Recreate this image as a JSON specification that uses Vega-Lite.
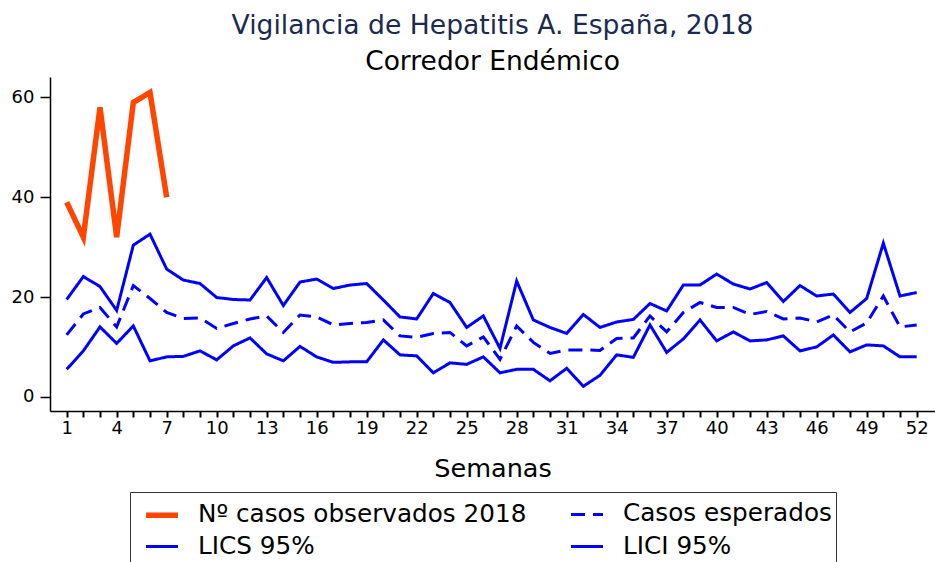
{
  "$schema": "https://vega.github.io/schema/vega-lite/v6.json",
  "width": 885,
  "height": 334,
  "autosize": {"type": "none"},
  "padding": {"left": 50, "top": 77, "right": 0, "bottom": 151},
  "background": "white",
  "title": {
    "text": "Vigilancia de Hepatitis A. España, 2018",
    "subtitle": "Corredor Endémico",
    "font": "DejaVu Sans",
    "fontSize": 26.6,
    "fontWeight": "normal",
    "color": "#1c2a4e",
    "subtitleFont": "DejaVu Sans",
    "subtitleFontSize": 26.5,
    "subtitleColor": "#000000",
    "subtitlePadding": 9,
    "anchor": "middle",
    "offset": 2
  },
  "data": {
    "values": [
      {"semana": 1, "Nº casos observados 2018": 39, "Casos esperados": 12.4, "LICS 95%": 19.5, "LICI 95%": 5.5},
      {"semana": 2, "Nº casos observados 2018": 32, "Casos esperados": 16.6, "LICS 95%": 24.1, "LICI 95%": 9.2},
      {"semana": 3, "Nº casos observados 2018": 58, "Casos esperados": 17.9, "LICS 95%": 22.1, "LICI 95%": 14.0},
      {"semana": 4, "Nº casos observados 2018": 32, "Casos esperados": 14.0, "LICS 95%": 17.3, "LICI 95%": 10.7},
      {"semana": 5, "Nº casos observados 2018": 59, "Casos esperados": 22.3, "LICS 95%": 30.4, "LICI 95%": 14.2},
      {"semana": 6, "Nº casos observados 2018": 61, "Casos esperados": 19.7, "LICS 95%": 32.6, "LICI 95%": 7.2},
      {"semana": 7, "Nº casos observados 2018": 40, "Casos esperados": 16.9, "LICS 95%": 25.6, "LICI 95%": 8.0},
      {"semana": 8, "Casos esperados": 15.7, "LICS 95%": 23.4, "LICI 95%": 8.1},
      {"semana": 9, "Casos esperados": 15.8, "LICS 95%": 22.7, "LICI 95%": 9.2},
      {"semana": 10, "Casos esperados": 13.7, "LICS 95%": 19.9, "LICI 95%": 7.4},
      {"semana": 11, "Casos esperados": 14.7, "LICS 95%": 19.5, "LICI 95%": 10.2},
      {"semana": 12, "Casos esperados": 15.6, "LICS 95%": 19.4, "LICI 95%": 11.8},
      {"semana": 13, "Casos esperados": 16.2, "LICS 95%": 23.9, "LICI 95%": 8.6},
      {"semana": 14, "Casos esperados": 12.9, "LICS 95%": 18.3, "LICI 95%": 7.2},
      {"semana": 15, "Casos esperados": 16.4, "LICS 95%": 23.0, "LICI 95%": 10.1},
      {"semana": 16, "Casos esperados": 16.0, "LICS 95%": 23.6, "LICI 95%": 8.0},
      {"semana": 17, "Casos esperados": 14.4, "LICS 95%": 21.7, "LICI 95%": 6.9},
      {"semana": 18, "Casos esperados": 14.7, "LICS 95%": 22.4, "LICI 95%": 7.0},
      {"semana": 19, "Casos esperados": 14.9, "LICS 95%": 22.7, "LICI 95%": 7.0},
      {"semana": 20, "Casos esperados": 15.4, "LICS 95%": 19.4, "LICI 95%": 11.4},
      {"semana": 21, "Casos esperados": 12.2, "LICS 95%": 16.0, "LICI 95%": 8.4},
      {"semana": 22, "Casos esperados": 11.9, "LICS 95%": 15.6, "LICI 95%": 8.2},
      {"semana": 23, "Casos esperados": 12.7, "LICS 95%": 20.7, "LICI 95%": 4.8},
      {"semana": 24, "Casos esperados": 12.9, "LICS 95%": 18.9, "LICI 95%": 6.8},
      {"semana": 25, "Casos esperados": 10.2, "LICS 95%": 13.9, "LICI 95%": 6.5},
      {"semana": 26, "Casos esperados": 12.0, "LICS 95%": 16.2, "LICI 95%": 8.0},
      {"semana": 27, "Casos esperados": 7.5, "LICS 95%": 9.7, "LICI 95%": 4.8},
      {"semana": 28, "Casos esperados": 14.2, "LICS 95%": 23.2, "LICI 95%": 5.5},
      {"semana": 29, "Casos esperados": 10.9, "LICS 95%": 15.4, "LICI 95%": 5.5},
      {"semana": 30, "Casos esperados": 8.7, "LICS 95%": 13.9, "LICI 95%": 3.2},
      {"semana": 31, "Casos esperados": 9.4, "LICS 95%": 12.7, "LICI 95%": 5.7},
      {"semana": 32, "Casos esperados": 9.4, "LICS 95%": 16.5, "LICI 95%": 2.1},
      {"semana": 33, "Casos esperados": 9.3, "LICS 95%": 13.9, "LICI 95%": 4.3},
      {"semana": 34, "Casos esperados": 11.7, "LICS 95%": 15.0, "LICI 95%": 8.4},
      {"semana": 35, "Casos esperados": 11.8, "LICS 95%": 15.5, "LICI 95%": 7.9},
      {"semana": 36, "Casos esperados": 16.2, "LICS 95%": 18.7, "LICI 95%": 14.4},
      {"semana": 37, "Casos esperados": 13.0, "LICS 95%": 17.2, "LICI 95%": 8.9},
      {"semana": 38, "Casos esperados": 16.9, "LICS 95%": 22.4, "LICI 95%": 11.6},
      {"semana": 39, "Casos esperados": 18.9, "LICS 95%": 22.4, "LICI 95%": 15.4},
      {"semana": 40, "Casos esperados": 17.9, "LICS 95%": 24.6, "LICI 95%": 11.2},
      {"semana": 41, "Casos esperados": 17.9, "LICS 95%": 22.6, "LICI 95%": 13.0},
      {"semana": 42, "Casos esperados": 16.5, "LICS 95%": 21.6, "LICI 95%": 11.2},
      {"semana": 43, "Casos esperados": 17.1, "LICS 95%": 22.9, "LICI 95%": 11.4},
      {"semana": 44, "Casos esperados": 15.6, "LICS 95%": 19.1, "LICI 95%": 12.2},
      {"semana": 45, "Casos esperados": 15.8, "LICS 95%": 22.3, "LICI 95%": 9.2},
      {"semana": 46, "Casos esperados": 15.0, "LICS 95%": 20.2, "LICI 95%": 10.0},
      {"semana": 47, "Casos esperados": 16.4, "LICS 95%": 20.6, "LICI 95%": 12.4},
      {"semana": 48, "Casos esperados": 13.0, "LICS 95%": 16.9, "LICI 95%": 9.0},
      {"semana": 49, "Casos esperados": 14.8, "LICS 95%": 19.7, "LICI 95%": 10.4},
      {"semana": 50, "Casos esperados": 20.2, "LICS 95%": 30.8, "LICI 95%": 10.2},
      {"semana": 51, "Casos esperados": 14.0, "LICS 95%": 20.2, "LICI 95%": 8.0},
      {"semana": 52, "Casos esperados": 14.4, "LICS 95%": 20.9, "LICI 95%": 8.0}
    ]
  },
  "transform": [
    {"fold": ["Nº casos observados 2018", "Casos esperados", "LICS 95%", "LICI 95%"], "as": ["serie", "casos"]},
    {"filter": "isValid(datum.casos)"}
  ],
  "mark": {"type": "line", "strokeJoin": "miter"},
  "encoding": {
    "x": {
      "field": "semana",
      "type": "quantitative",
      "scale": {"domain": [0, 53.1], "nice": false, "zero": false},
      "axis": {
        "title": "Semanas",
        "values": [1,2,3,4,5,6,7,8,9,10,11,12,13,14,15,16,17,18,19,20,21,22,23,24,25,26,27,28,29,30,31,32,33,34,35,36,37,38,39,40,41,42,43,44,45,46,47,48,49,50,51,52],
        "labelExpr": "(datum.value - 1) % 3 == 0 ? datum.label : ''",
        "tickSize": 6,
        "tickWidth": 2,
        "labelPadding": 2,
        "titlePadding": 19,
        "titleFontSize": 25.5,
        "labelOverlap": false,
        "labelFlush": false
      }
    },
    "y": {
      "field": "casos",
      "type": "quantitative",
      "scale": {"domain": [-2.85, 64.1], "nice": false, "zero": false},
      "axis": {
        "title": null,
        "values": [0, 20, 40, 60],
        "tickSize": 10,
        "tickWidth": 1.5,
        "labelPadding": 6
      }
    },
    "color": {
      "field": "serie",
      "type": "nominal",
      "title": null,
      "scale": {
        "domain": ["Nº casos observados 2018", "LICS 95%", "Casos esperados", "LICI 95%"],
        "range": ["#ff4500", "#0000ff", "#0000ff", "#0000ff"]
      }
    },
    "strokeDash": {
      "field": "serie",
      "type": "nominal",
      "title": null,
      "scale": {
        "domain": ["Nº casos observados 2018", "LICS 95%", "Casos esperados", "LICI 95%"],
        "range": [[1, 0], [1, 0], [14, 8], [1, 0]]
      }
    },
    "strokeWidth": {
      "field": "serie",
      "type": "nominal",
      "title": null,
      "scale": {
        "type": "ordinal",
        "domain": ["Nº casos observados 2018", "LICS 95%", "Casos esperados", "LICI 95%"],
        "range": [5.5, 3, 3, 3]
      }
    }
  },
  "config": {
    "view": {"stroke": null},
    "axis": {
      "grid": false,
      "domainColor": "#000000",
      "domainWidth": 1.5,
      "tickColor": "#000000",
      "labelColor": "#000000",
      "labelFont": "DejaVu Sans",
      "labelFontSize": 18,
      "titleFont": "DejaVu Sans",
      "titleFontWeight": "normal",
      "titleColor": "#000000"
    },
    "legend": {
      "orient": "none",
      "legendX": 80,
      "legendY": 415,
      "direction": "vertical",
      "columns": 2,
      "columnPadding": 32,
      "rowPadding": 2,
      "padding": 4,
      "symbolOffset": 9,
      "strokeColor": "#333333",
      "fillColor": "#ffffff",
      "symbolType": "stroke",
      "symbolSize": 1024,
      "labelFont": "DejaVu Sans",
      "labelFontSize": 24.7,
      "labelColor": "#000000",
      "labelOffset": 17,
      "labelLimit": 500
    }
  }
}
